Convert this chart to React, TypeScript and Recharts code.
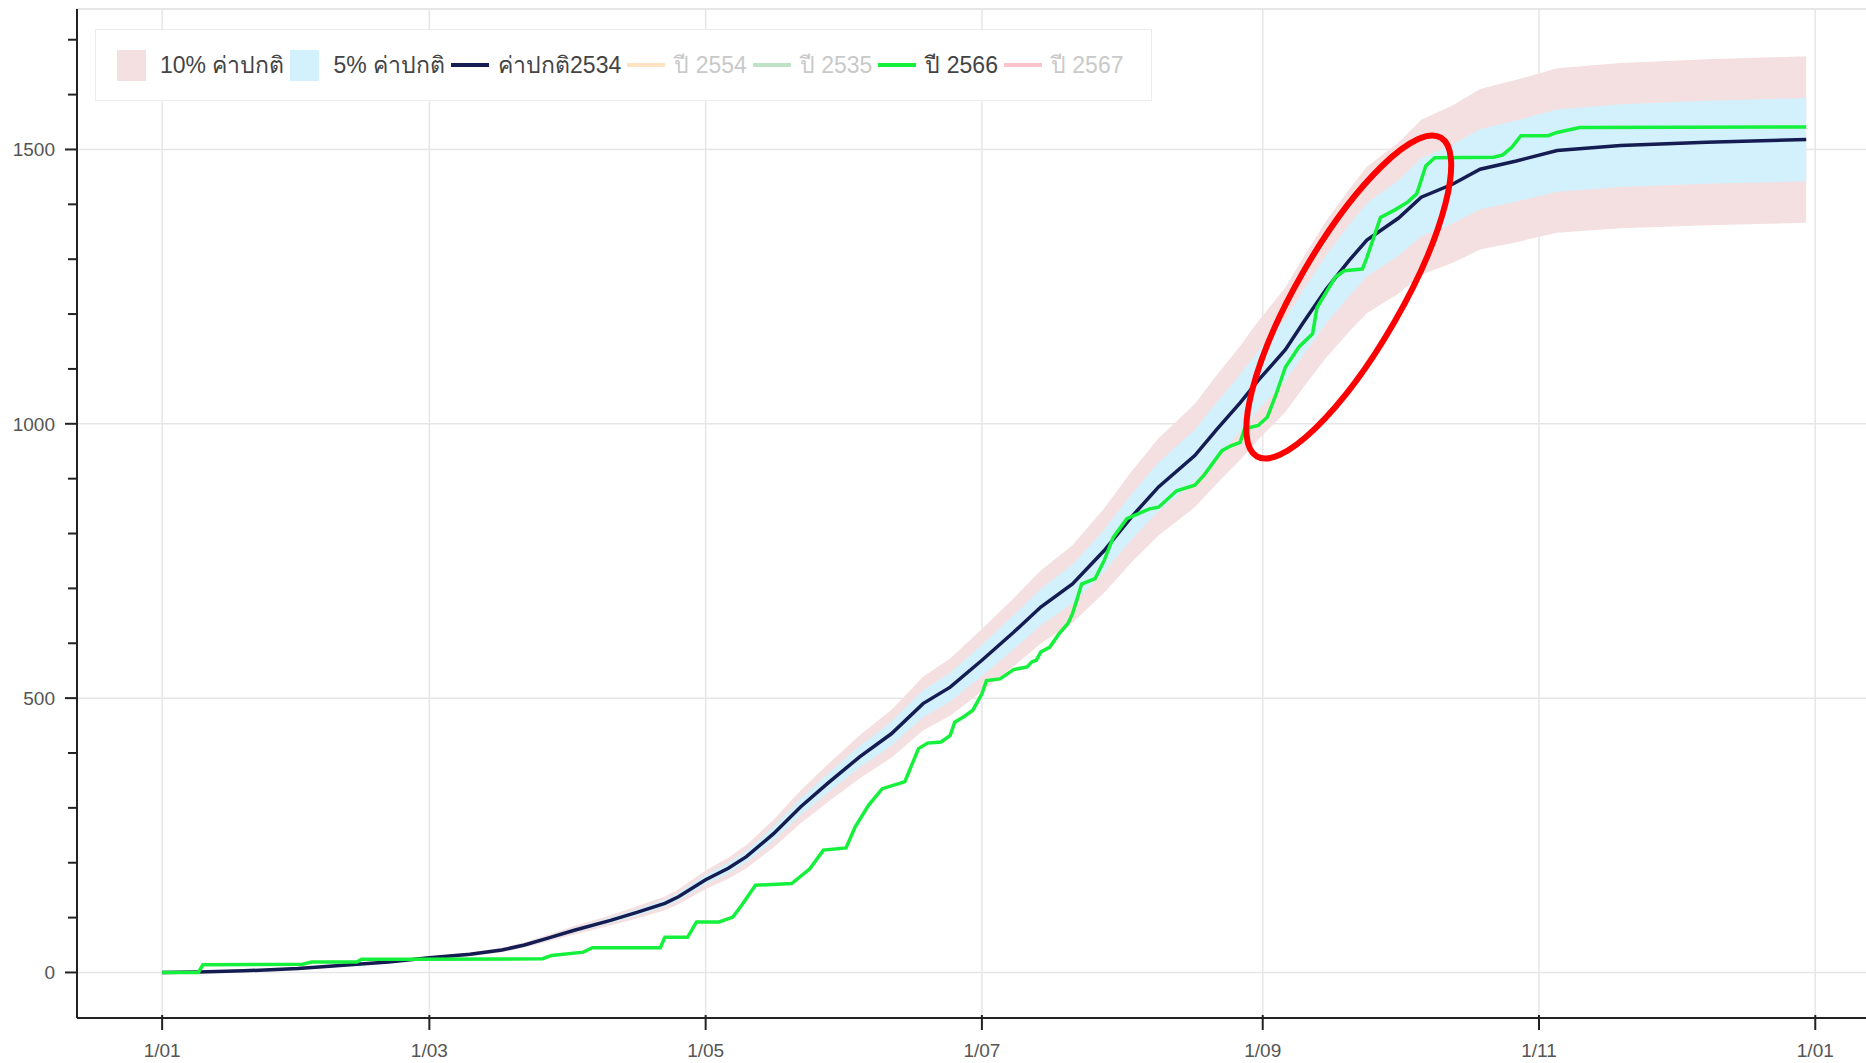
import React from 'react';
import {
  ComposedChart,
  Area,
  Line,
  XAxis,
  YAxis,
  CartesianGrid,
  ReferenceLine,
  ReferenceDot,
} from 'recharts';

// day of year (0 = 1 Jan) and accumulated rain (mm) of the normal curve
const normalDays = [
  0, 8, 18, 30, 40, 50, 59, 68, 75, 80, 85, 91, 99, 105, 111, 114, 120, 125, 129, 135,
  141, 147, 154, 161, 168, 174, 181, 188, 194, 201, 208, 214, 220, 228, 233, 238, 242,
  248, 252, 257, 262, 266, 273, 278, 285, 291, 299, 308, 322, 341, 363,
];
const normalRain = [
  0, 1, 3, 7, 13, 19, 27, 33, 41, 50, 62, 77, 95, 110, 126, 138, 169, 190, 211, 253,
  302, 345, 393, 435, 490, 520, 569, 620, 666, 708, 769, 830, 885, 942, 991, 1038, 1079,
  1135, 1185, 1245, 1297, 1335, 1375, 1413, 1437, 1464, 1479, 1498, 1507, 1513, 1518,
];

// year 2566
const rain2566Days = [
  0, 8, 9, 31, 33, 43, 44, 55, 84, 86, 93, 95, 110, 111, 116, 118, 123, 126, 128, 131,
  139, 143, 146, 151, 153, 156, 159, 163, 164, 167, 169, 172, 174, 175, 177, 179, 181,
  182, 185, 188, 191, 192, 193, 194, 196, 198, 200, 201, 202, 203, 206, 208, 210, 213,
  218, 220, 224, 228, 230, 234, 236, 238, 239, 242, 244, 246, 247, 248, 251, 254, 255,
  259, 261, 265, 266, 269, 272, 275, 277, 279, 281, 294, 296, 298, 300, 306, 308, 313, 363,
];
const rain2566 = [
  0, 0, 14, 15, 19, 19, 24, 24, 25, 31, 37, 45, 45, 64, 64, 92, 92, 101, 123, 159,
  162, 189, 223, 227, 265, 305, 335, 345, 348, 408, 418, 420, 432, 456, 466, 478, 508,
  532, 535, 552, 557, 566, 569, 584, 593, 617, 636, 654, 680, 708, 718, 751, 793, 827,
  845, 848, 878, 888, 906, 951, 960, 966, 991, 997, 1012, 1055, 1079, 1103, 1140, 1164, 1212,
  1267, 1279, 1282, 1303, 1376, 1389, 1404, 1419, 1470, 1485, 1486, 1490, 1504, 1525, 1525, 1531, 1540, 1541,
];

const xTickDays = [0, 59, 120, 181, 243, 304, 365];
const xTickLabels = ['1/01', '1/03', '1/05', '1/07', '1/09', '1/11', '1/01'];
const yTickValues = [0, 100, 200, 300, 400, 500, 600, 700, 800, 900, 1000, 1100, 1200, 1300, 1400, 1500, 1600, 1700];
const yGridValues = [0, 500, 1000, 1500];

const legendLabels = ['10% ค่าปกติ', '5% ค่าปกติ', 'ค่าปกติ2534', 'ปี 2554', 'ปี 2535', 'ปี 2566', 'ปี 2567'];
const legendKinds = ['box', 'box', 'line', 'line', 'line', 'line', 'line'];
const legendColors = ['#f4e0e0', '#d3f1fc', '#141c52', '#fde3c2', '#bfe2c6', '#14f03c', '#fbc3cb'];
const legendMuted = [false, false, false, true, true, false, true];

const band10Share = 0.1;
const band5Share = 0.05;

// annotation ellipse centre (day, mm)
const highlightDay = 262;
const highlightRain = 1231;

const X_DOMAIN = [-18.8, 376.2];
const Y_DOMAIN = [-83, 1756];
const TICK = 12;
const TICK_GAP_Y = 10;
const TICK_GAP_X = 14;
const FONT = '"Liberation Sans", Arial, "Noto Sans", "DejaVu Sans", sans-serif';

const normalData = normalDays.map((day, i) => {
  const v = normalRain[i];
  return {
    day,
    normal: v,
    band10: [v * (1 - band10Share), v * (1 + band10Share)],
    band5: [v * (1 - band5Share), v * (1 + band5Share)],
  };
});

const data2566 = rain2566Days.map((day, i) => ({ day, rain: rain2566[i] }));

function YTick(props: any) {
  const { x, y, payload } = props;
  const axisX = x + TICK + TICK_GAP_Y;
  const major = payload.value % 500 === 0;
  return (
    <g>
      <line x1={axisX - (major ? TICK : 9)} x2={axisX} y1={y} y2={y} stroke="#222" strokeWidth={2} />
      {major && (
        <text x={x} y={y} dy="0.36em" textAnchor="end" fontSize={19} fill="#555" fontFamily={FONT}>
          {payload.value}
        </text>
      )}
    </g>
  );
}

function XTick(props: any) {
  const { x, y, payload } = props;
  const axisY = y - TICK - TICK_GAP_X;
  const idx = xTickDays.indexOf(payload.value);
  return (
    <g>
      <line x1={x} x2={x} y1={axisY - 3} y2={axisY + TICK} stroke="#222" strokeWidth={2} />
      <text x={x} y={y} dy="0.71em" textAnchor="middle" fontSize={19} fill="#555" fontFamily={FONT}>
        {idx >= 0 ? xTickLabels[idx] : ''}
      </text>
    </g>
  );
}

function Highlight(props: any) {
  const { cx, cy } = props;
  return (
    <ellipse
      cx={cx}
      cy={cy}
      rx={184}
      ry={52}
      transform={`rotate(-60 ${cx} ${cy})`}
      fill="none"
      stroke="#ff0000"
      strokeWidth={6}
    />
  );
}

function ChartLegend() {
  return (
    <div
      style={{
        position: 'absolute',
        left: 95,
        top: 29,
        width: 1057,
        height: 72,
        boxSizing: 'border-box',
        border: '1.5px solid #ececec',
        background: '#fff',
        display: 'flex',
        alignItems: 'center',
        paddingLeft: 21,
        fontFamily: FONT,
        fontSize: 23,
      }}
    >
      {legendLabels.map((label, i) => (
        <div key={i} style={{ display: 'flex', alignItems: 'center', marginRight: 6 }}>
          {legendKinds[i] === 'box' ? (
            <div style={{ width: 29, height: 31, background: legendColors[i] }} />
          ) : (
            <div style={{ width: 38, height: 4, background: legendColors[i] }} />
          )}
          <span
            style={{
              marginLeft: legendKinds[i] === 'box' ? 14 : 9,
              color: legendMuted[i] ? '#c9c9c9' : '#444',
              whiteSpace: 'nowrap',
            }}
          >
            {label}
          </span>
        </div>
      ))}
    </div>
  );
}

export default function App() {
  return (
    <div style={{ position: 'absolute', left: 0, top: 0, width: 1866, height: 1063, background: '#fff' }}>
      <ComposedChart width={1866} height={1063} margin={{ top: 9, right: 0, bottom: 0, left: 0 }}>
        <CartesianGrid
          stroke="#e6e6e6"
          strokeWidth={1.5}
          horizontalValues={yGridValues}
          verticalValues={xTickDays}
        />
        <ReferenceLine y={Y_DOMAIN[1]} stroke="#e6e6e6" strokeWidth={2} />
        <XAxis
          type="number"
          dataKey="day"
          domain={X_DOMAIN}
          allowDataOverflow
          ticks={xTickDays}
          interval={0}
          height={45}
          tickSize={TICK}
          tickMargin={TICK_GAP_X}
          tickLine={false}
          tick={<XTick />}
          axisLine={{ stroke: '#222', strokeWidth: 2 }}
        />
        <YAxis
          type="number"
          domain={Y_DOMAIN}
          allowDataOverflow
          ticks={yTickValues}
          interval={0}
          width={77}
          tickSize={TICK}
          tickMargin={TICK_GAP_Y}
          tickLine={false}
          tick={<YTick />}
          axisLine={{ stroke: '#222', strokeWidth: 2 }}
        />
        <Area
          data={normalData}
          dataKey="band10"
          type="linear"
          stroke="none"
          fill="#f4e0e0"
          fillOpacity={1}
          isAnimationActive={false}
        />
        <Area
          data={normalData}
          dataKey="band5"
          type="linear"
          stroke="none"
          fill="#d3f1fc"
          fillOpacity={1}
          isAnimationActive={false}
        />
        <Line
          data={normalData}
          dataKey="normal"
          type="linear"
          stroke="#141c52"
          strokeWidth={3.5}
          dot={false}
          isAnimationActive={false}
        />
        <Line
          data={data2566}
          dataKey="rain"
          type="linear"
          stroke="#14f03c"
          strokeWidth={3.5}
          dot={false}
          isAnimationActive={false}
        />
        <ReferenceDot x={highlightDay} y={highlightRain} ifOverflow="visible" shape={<Highlight />} />
      </ComposedChart>
      <ChartLegend />
    </div>
  );
}
